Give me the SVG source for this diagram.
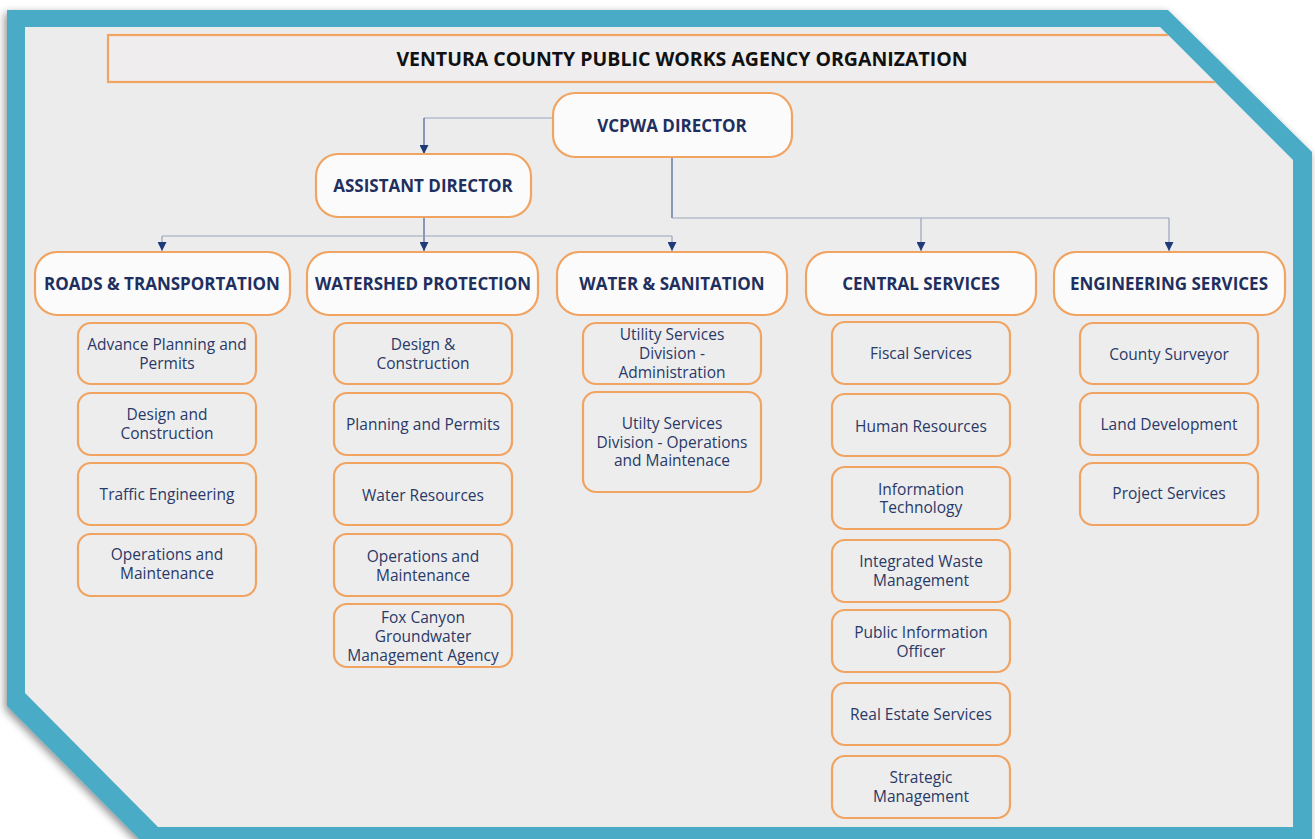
<svg xmlns="http://www.w3.org/2000/svg" width="1315" height="839" viewBox="0 0 1315 839">
<defs>
<filter id="shadow" x="-5%" y="-5%" width="110%" height="110%">
<feGaussianBlur in="SourceAlpha" stdDeviation="4"/>
<feOffset dx="-2" dy="3" result="b"/>
<feComponentTransfer><feFuncA type="linear" slope="0.45"/></feComponentTransfer>
<feMerge><feMergeNode/><feMergeNode in="SourceGraphic"/></feMerge>
</filter>
<clipPath id="inner"><polygon points="25,27 1160,27 1293,160 1293,827 158,827 25,693"/></clipPath>
<marker id="arr" viewBox="0 0 10 10" refX="10" refY="5" markerWidth="9" markerHeight="9" markerUnits="userSpaceOnUse" orient="auto">
<path d="M0,0 L10,5 L0,10 z" fill="#1f3a78"/>
</marker>
<style>
.top{fill:#fbfbfb;stroke:#f1a462;stroke-width:2.2}
.sub{fill:#ededed;stroke:#f1a462;stroke-width:2.2}
.ht{font-family:"Open Sans","Liberation Sans",sans-serif;font-weight:700;font-size:17px;fill:#1f2f5e;text-anchor:middle;dominant-baseline:central}
.st{font-family:"Open Sans","Liberation Sans",sans-serif;font-size:15.5px;fill:#2a3968;text-anchor:middle;dominant-baseline:central}
.ln{fill:none;stroke:#9aa3bd;stroke-width:1.2}
.lv{fill:none;stroke:#4a5f94;stroke-width:1.2}
</style>
</defs>
<rect width="1315" height="839" fill="#ffffff"/>
<polygon points="7,10 1168,10 1312,152 1312,852 152,852 7,706" fill="#4aabc6" filter="url(#shadow)"/>
<polygon points="25,27 1160,27 1293,160 1293,827 158,827 25,693" fill="#ececec"/>
<g id="title" clip-path="url(#inner)">
<rect x="108" y="35" width="1250" height="47" fill="#efeded" stroke="#f1a462" stroke-width="2.2"/>
<text x="682" y="58" font-family="'Open Sans','Liberation Sans',sans-serif" font-weight="700" font-size="19.5" fill="#111" text-anchor="middle" dominant-baseline="central">VENTURA COUNTY PUBLIC WORKS AGENCY ORGANIZATION</text>
</g>
<g id="connectors">
<path class="ln" d="M553,118 H424"/>
<path class="lv" d="M424,118 V154" marker-end="url(#arr)"/>
<path class="lv" d="M672,157 V218"/>
<path class="ln" d="M672,218 H1169"/>
<path class="ln" d="M921,218 V251" marker-end="url(#arr)"/>
<path class="ln" d="M1169,218 V251" marker-end="url(#arr)"/>
<path class="lv" d="M424,217 V251" marker-end="url(#arr)"/>
<path class="ln" d="M162,236 H672"/>
<path class="ln" d="M162,236 V251" marker-end="url(#arr)"/>
<path class="ln" d="M672,236 V251" marker-end="url(#arr)"/>
</g>
<g id="director"><rect class="top" x="553" y="93" width="239" height="64" rx="22"/><text class="ht" x="672" y="125">VCPWA DIRECTOR</text></g>
<g id="assistant"><rect class="top" x="316" y="154" width="215" height="63" rx="22"/><text class="ht" x="423" y="185">ASSISTANT DIRECTOR</text></g>
<g id="roads"><rect class="top" x="35" y="252" width="255" height="63" rx="22"/><text class="ht" x="162" y="283">ROADS &amp; TRANSPORTATION</text></g>
<g id="watershed"><rect class="top" x="307" y="252" width="231" height="63" rx="22"/><text class="ht" x="423" y="283">WATERSHED PROTECTION</text></g>
<g id="water"><rect class="top" x="557" y="252" width="230" height="63" rx="22"/><text class="ht" x="672" y="283">WATER &amp; SANITATION</text></g>
<g id="central"><rect class="top" x="806" y="252" width="230" height="63" rx="22"/><text class="ht" x="921" y="283">CENTRAL SERVICES</text></g>
<g id="engineering"><rect class="top" x="1054" y="252" width="231" height="63" rx="22"/><text class="ht" x="1169" y="283">ENGINEERING SERVICES</text></g>

<g id="r1"><rect class="sub" x="78" y="323" width="178" height="61" rx="13"/><text class="st" x="167" y="344">Advance Planning and<tspan x="167" dy="19">Permits</tspan></text></g>
<g id="r2"><rect class="sub" x="78" y="393" width="178" height="62" rx="13"/><text class="st" x="167" y="414">Design and<tspan x="167" dy="19">Construction</tspan></text></g>
<g id="r3"><rect class="sub" x="78" y="463" width="178" height="62" rx="13"/><text class="st" x="167" y="494">Traffic Engineering</text></g>
<g id="r4"><rect class="sub" x="78" y="534" width="178" height="62" rx="13"/><text class="st" x="167" y="554">Operations and<tspan x="167" dy="19">Maintenance</tspan></text></g>

<g id="w1"><rect class="sub" x="334" y="323" width="178" height="61" rx="13"/><text class="st" x="423" y="344">Design &amp;<tspan x="423" dy="19">Construction</tspan></text></g>
<g id="w2"><rect class="sub" x="334" y="393" width="178" height="62" rx="13"/><text class="st" x="423" y="424">Planning and Permits</text></g>
<g id="w3"><rect class="sub" x="334" y="463" width="178" height="62" rx="13"/><text class="st" x="423" y="495">Water Resources</text></g>
<g id="w4"><rect class="sub" x="334" y="534" width="178" height="62" rx="13"/><text class="st" x="423" y="556">Operations and<tspan x="423" dy="19">Maintenance</tspan></text></g>
<g id="w5"><rect class="sub" x="334" y="604" width="178" height="63" rx="13"/><text class="st" x="423" y="617">Fox Canyon<tspan x="423" dy="19">Groundwater</tspan><tspan x="423" dy="19">Management Agency</tspan></text></g>

<g id="s1"><rect class="sub" x="583" y="323" width="178" height="61" rx="13"/><text class="st" x="672" y="334">Utility Services<tspan x="672" dy="19">Division -</tspan><tspan x="672" dy="19">Administration</tspan></text></g>
<g id="s2"><rect class="sub" x="583" y="392" width="178" height="100" rx="13"/><text class="st" x="672" y="423">Utilty Services<tspan x="672" dy="18.5">Division - Operations</tspan><tspan x="672" dy="18.5">and Maintenace</tspan></text></g>

<g id="c1"><rect class="sub" x="832" y="322" width="178" height="62" rx="13"/><text class="st" x="921" y="353">Fiscal Services</text></g>
<g id="c2"><rect class="sub" x="832" y="394" width="178" height="62" rx="13"/><text class="st" x="921" y="426">Human Resources</text></g>
<g id="c3"><rect class="sub" x="832" y="467" width="178" height="62" rx="13"/><text class="st" x="921" y="489">Information<tspan x="921" dy="18">Technology</tspan></text></g>
<g id="c4"><rect class="sub" x="832" y="540" width="178" height="62" rx="13"/><text class="st" x="921" y="561">Integrated Waste<tspan x="921" dy="19">Management</tspan></text></g>
<g id="c5"><rect class="sub" x="832" y="610" width="178" height="62" rx="13"/><text class="st" x="921" y="632">Public Information<tspan x="921" dy="19">Officer</tspan></text></g>
<g id="c6"><rect class="sub" x="832" y="683" width="178" height="62" rx="13"/><text class="st" x="921" y="714">Real Estate Services</text></g>
<g id="c7"><rect class="sub" x="832" y="756" width="178" height="62" rx="13"/><text class="st" x="921" y="777">Strategic<tspan x="921" dy="19">Management</tspan></text></g>

<g id="e1"><rect class="sub" x="1080" y="323" width="178" height="61" rx="13"/><text class="st" x="1169" y="354">County Surveyor</text></g>
<g id="e2"><rect class="sub" x="1080" y="393" width="178" height="62" rx="13"/><text class="st" x="1169" y="424">Land Development</text></g>
<g id="e3"><rect class="sub" x="1080" y="463" width="178" height="62" rx="13"/><text class="st" x="1169" y="493">Project Services</text></g>
</svg>
